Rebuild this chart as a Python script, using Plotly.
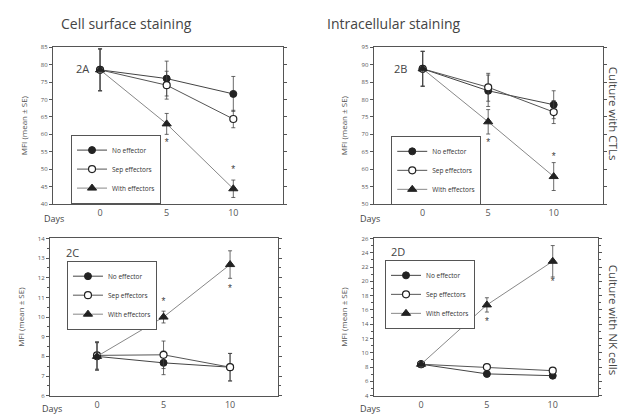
import plotly.graph_objects as go

days = [0, 5, 10]
day_labels = ["0", "5", "10"]
series_names = ["No effector", "Sep effectors", "With effectors"]

# Panel 2A - cell surface, CTLs
a_no = [78.5, 76.0, 71.6]
a_no_err = [6.0, 5.0, 5.0]
a_sep = [78.5, 74.1, 64.4]
a_sep_err = [6.0, 4.0, 2.5]
a_with = [78.5, 63.0, 44.4]
a_with_err = [6.0, 3.0, 2.5]
a_star = [57.3, 49.6]

# Panel 2B - intracellular, CTLs
b_no = [88.8, 82.5, 78.5]
b_no_err = [5.0, 4.5, 4.0]
b_sep = [88.8, 83.5, 76.4]
b_sep_err = [5.0, 4.0, 3.3]
b_with = [88.8, 73.6, 57.9]
b_with_err = [5.0, 3.5, 4.0]
b_star = [67.3, 63.5]

# Panel 2C - cell surface, NK cells
c_no = [8.0, 7.67, 7.45]
c_no_err = [0.7, 0.6, 0.7]
c_sep = [8.05, 8.08, 7.45]
c_sep_err = [0.7, 0.7, 0.7]
c_with = [8.0, 10.0, 12.67]
c_with_err = [0.7, 0.3, 0.7]
c_star = [10.75, 11.4]

# Panel 2D - intracellular, NK cells
d_no = [8.4, 7.05, 6.8]
d_no_err = [0.4, 0.4, 0.4]
d_sep = [8.4, 8.0, 7.5]
d_sep_err = [0.4, 0.4, 0.4]
d_with = [8.4, 16.7, 22.8]
d_with_err = [0.4, 1.0, 2.2]
d_star = [14.25, 19.8]

panels = [
    dict(id="", no=(a_no, a_no_err), sep=(a_sep, a_sep_err), wi=(a_with, a_with_err),
         star=a_star, yr=[40, 85], dt=5, xdom=[0.0851, 0.4543], ydom=[0.5143, 0.8952],
         xr=[-3.53, 13.73], leg=(0.114, 0.683)),
    dict(id="2", no=(b_no, b_no_err), sep=(b_sep, b_sep_err), wi=(b_with, b_with_err),
         star=b_star, yr=[50, 95], dt=5, xdom=[0.5998, 0.9674], ydom=[0.5143, 0.8952],
         xr=[-3.74, 13.74], leg=(0.628, 0.680)),
    dict(id="3", no=(c_no, c_no_err), sep=(c_sep, c_sep_err), wi=(c_with, c_with_err),
         star=c_star, yr=[6, 14], dt=1, xdom=[0.0803, 0.4462], ydom=[0.0493, 0.4310],
         xr=[-3.53, 13.6], leg=(0.1075, 0.377)),
    dict(id="4", no=(d_no, d_no_err), sep=(d_sep, d_sep_err), wi=(d_with, d_with_err),
         star=d_star, yr=[4, 26], dt=2, xdom=[0.5998, 0.9599], ydom=[0.0493, 0.4310],
         xr=[-3.6, 13.44], leg=(0.618, 0.379)),
]

fig = go.Figure()
axis_col = "#555555"
font_fam = "Open Sans, Liberation Sans, sans-serif"
layout = dict()

for i, p in enumerate(panels):
    xa = "x" + p["id"]
    ya = "y" + p["id"]
    legname = "legend" if i == 0 else "legend%d" % (i + 1)
    styles = [
        (series_names[0], p["no"], dict(symbol="circle", color="#222", size=7, line=dict(color="#222", width=1)), "#444"),
        (series_names[1], p["sep"], dict(symbol="circle", color="white", size=7, line=dict(color="#222", width=1.2)), "#555"),
        (series_names[2], p["wi"], dict(symbol="triangle-up", color="#222", size=8, line=dict(color="#222", width=1)), "#888"),
    ]
    for name, (vals, errs), mk, lc in styles:
        fig.add_trace(go.Scatter(
            x=days, y=vals, name=name, mode="lines+markers",
            xaxis=xa, yaxis=ya, legend=legname,
            line=dict(color=lc, width=1), marker=mk,
            error_y=dict(type="data", array=errs, color="#444", thickness=0.8, width=2),
        ))
    fig.add_trace(go.Scatter(
        x=days[1:], y=p["star"], mode="text", text=["*", "*"], showlegend=False,
        textfont=dict(size=10, color="#444", family="Liberation Sans, sans-serif"),
        textposition="middle center",
        xaxis=xa, yaxis=ya, hoverinfo="skip",
    ))
    xkey = "xaxis" + p["id"]
    ykey = "yaxis" + p["id"]
    layout[xkey] = dict(
        domain=p["xdom"], range=p["xr"], anchor=ya, tickmode="array",
        tickvals=days, ticktext=day_labels, showgrid=False, zeroline=False,
        showline=True, linecolor=axis_col, linewidth=1.2, mirror=True,
        ticks="", tickfont=dict(size=9, color="#555", family=font_fam),
    )
    layout[ykey] = dict(
        domain=p["ydom"], range=p["yr"], anchor=xa, dtick=p["dt"], tick0=p["yr"][0],
        showgrid=False, zeroline=False, showline=True, linecolor=axis_col,
        linewidth=1.2, mirror="ticks", ticks="outside", ticklen=3, tickcolor=axis_col,
        minor=dict(ticks="outside", ticklen=2, tickcolor=axis_col, nticks=2),
        tickfont=dict(size=6, color="#555", family=font_fam),
        title=dict(text="MFI (mean ± SE)", font=dict(size=8, color="#555", family=font_fam), standoff=12),
    )
    layout[legname] = dict(
        x=p["leg"][0], y=p["leg"][1], xanchor="left", yanchor="top",
        bordercolor="#555", borderwidth=1, bgcolor="white",
        font=dict(size=6.5, color="#333", family=font_fam),
        itemwidth=30, tracegroupgap=0,
    )

annotations = [
    dict(text="Cell surface staining", x=126, y=20, font=dict(size=14)),
    dict(text="Intracellular staining", x=394, y=20, font=dict(size=14)),
    dict(text="Culture with CTLs", x=613, y=112, font=dict(size=11.5), textangle=90),
    dict(text="Culture with NK cells", x=613, y=322, font=dict(size=11.5), textangle=90),
    dict(text="Days", x=54, y=219, font=dict(size=9)),
    dict(text="Days", x=370, y=219, font=dict(size=9)),
    dict(text="Days", x=52, y=412, font=dict(size=9)),
    dict(text="Days", x=370, y=412, font=dict(size=9)),
    dict(text="2A", x=82, y=66, font=dict(size=11)),
    dict(text="2B", x=400, y=66, font=dict(size=11)),
    dict(text="2C", x=72, y=253, font=dict(size=11)),
    dict(text="2D", x=398, y=252, font=dict(size=11)),
]
anns = []
for a in annotations:
    f = dict(family=font_fam, color="#444")
    f.update(a["font"])
    anns.append(dict(text=a["text"], x=a["x"] / 623, y=1 - a["y"] / 420, xref="paper", yref="paper",
                     showarrow=False, xanchor="center", yanchor="middle",
                     textangle=a.get("textangle", 0), font=f))

fig.update_layout(
    width=623, height=420, margin=dict(l=0, r=0, t=0, b=0),
    paper_bgcolor="white", plot_bgcolor="white",
    annotations=anns, showlegend=True, **layout,
)

fig.write_html("out.html", config={"displayModeBar": False},
               post_script="document.body.style.margin='0';")
